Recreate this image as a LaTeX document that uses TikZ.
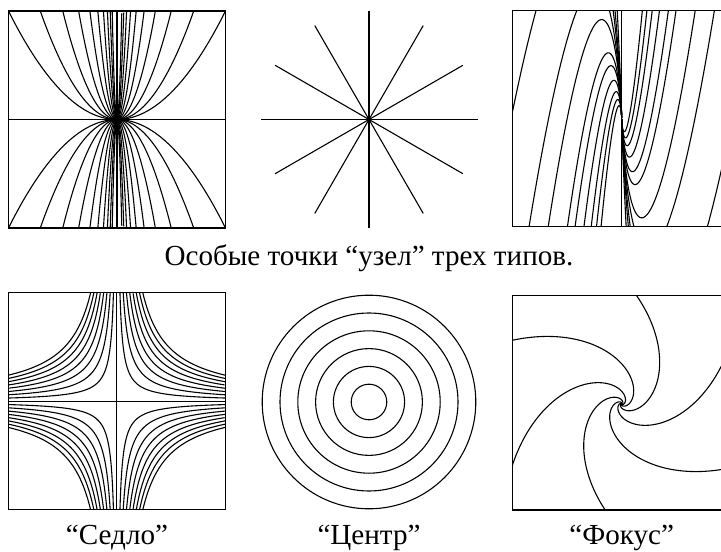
\documentclass[tikz,border=0pt]{standalone}
\usepackage{fontspec}
\setmainfont{Liberation Serif}
\begin{document}
\begin{tikzpicture}[x=0.0128cm, y=0.0128cm, font=\fontsize{10.6}{12.5}\selectfont,
  traj/.style={line width=0.4pt},
  lbl/.style={inner sep=1pt}]
\useasboundingbox (0,0) rectangle (721,551);
% node: parabolas y = 2^n x^2
\begin{scope}[shift={(117,431.5)}, scale=108.5]
  \draw (-1,-1) rectangle (1,1) (-1,0) -- (1,0) (0,-1) -- (0,1);
  \foreach \n in {0,...,9} {
    \pgfmathsetmacro\a{2^(-\n/2)}
    \foreach \sg in {1,-1}
      \draw[traj] plot[domain=-\a:\a, samples=41, smooth] (\x,{\sg*pow(2,\n)*\x*\x});
  }
\end{scope}
% star node
\begin{scope}[shift={(369,431.5)}]
  \foreach \ang in {0,30,...,150}
    \draw[traj] (\ang:108.5) -- (\ang+180:108.5);
\end{scope}
% degenerate node
\begin{scope}[shift={(621.7,432.3)}, xscale=109.4, yscale=108]
  \draw (-1,-1) rectangle (1,1) (0,-1) -- (0,1);
  \clip (-1,-1) rectangle (1,1);
  \foreach \s in {2,0.6,0.372,0.246,0.183,0.122,0.098,0.07,0.05,0.035,0.024}
    \draw[traj] plot[variable=\t, domain=-9:0, samples=200] ({-exp(\t)},{5*exp(\t)*(1-\t+ln(\s))})
                plot[variable=\t, domain=-9:0, samples=200] ({exp(\t)},{-5*exp(\t)*(1-\t+ln(\s))});
\end{scope}
\node[lbl] (title) at (369,293) {Особые точки “узел” трех типов.};
% saddle: xy = c
\begin{scope}[shift={(116.7,149.7)}, scale=108.6]
  \draw (-1,-1) rectangle (1,1) (-1,0) -- (1,0) (0,-1) -- (0,1);
  \foreach \k in {1,...,8} {
    \pgfmathsetmacro\c{0.03*\k}
    \pgfmathsetmacro\T{-0.5*ln(\c)}
    \foreach \sx/\sy in {1/1,1/-1,-1/1,-1/-1}
      \draw[traj] plot[variable=\t, domain=-\T:\T, samples=40, smooth]
        ({\sx*sqrt(\c)*exp(\t)},{\sy*sqrt(\c)*exp(-\t)});
  }
\end{scope}
% centre
\begin{scope}[shift={(369,149)}]
  \foreach \k in {1,...,6}
    \draw[traj] (0,0) circle[radius=17.8*\k];
\end{scope}
% focus
\begin{scope}[shift={(621.7,147)}]
  \draw (-109.4,-106) rectangle (109.4,108.3);
  \clip (-109.4,-106) rectangle (109.4,108.3);
  \foreach \i in {0,...,5} {
    \pgfmathsetmacro\th{81.5+60*\i}
    \pgfmathsetmacro\ta{\th+25}
    \pgfmathsetmacro\tb{\th-540}
    \draw[traj] plot[domain=\ta:\tb, samples=220, smooth] (\x:{108*exp(1.1*(\x-\th)*pi/180)});
  }
\end{scope}
\node[lbl] (sedlo) at (117,13) {“Седло”};
\node[lbl] (centr) at (369,13) {“Центр”};
\node[lbl] (fokus) at (621.7,13) {“Фокус”};
\end{tikzpicture}
\end{document}
